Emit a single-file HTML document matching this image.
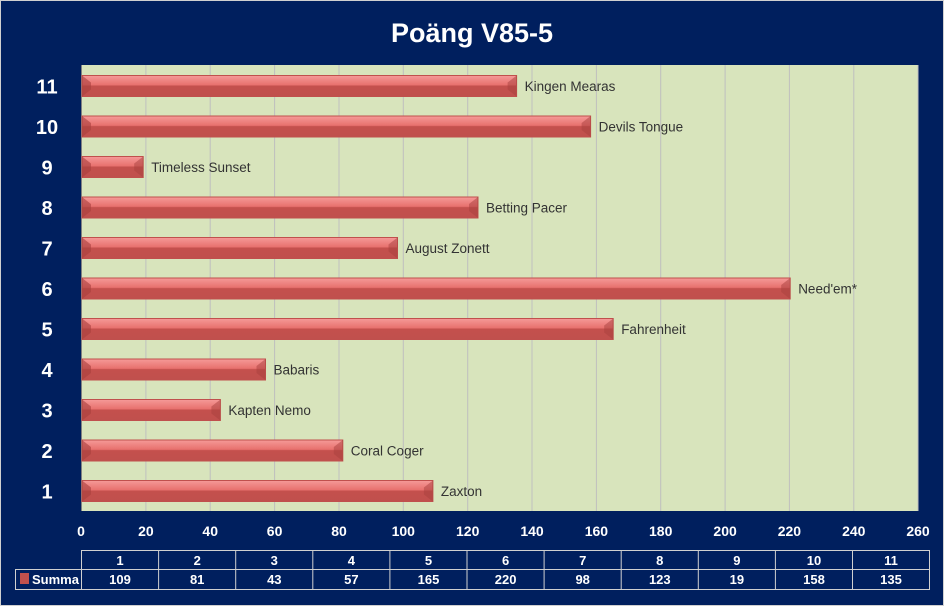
<!DOCTYPE html>
<html><head><meta charset="utf-8"><style>
html,body{margin:0;padding:0;background:#fff}
svg{display:block}
text{font-family:"Liberation Sans",sans-serif}
</style></head><body>
<svg width="944" height="606" viewBox="0 0 944 606" xmlns="http://www.w3.org/2000/svg">
<defs>
<linearGradient id="bg" x1="0" y1="0" x2="0" y2="1">
<stop offset="0" stop-color="#F59A98"/><stop offset="0.45" stop-color="#E8716E"/><stop offset="0.5" stop-color="#C4504D"/><stop offset="1" stop-color="#C0504D"/>
</linearGradient>
</defs>
<rect x="0" y="0" width="944" height="606" fill="#D0D0D0"/>
<rect x="1" y="1" width="942" height="604" fill="#001F5E"/>
<text x="472" y="42" text-anchor="middle" fill="#fff" font-size="27" font-weight="bold">Poäng  V85-5</text>
<rect x="81" y="65" width="837" height="446" fill="#D8E4BC"/>
<g stroke="#BFBFBF" stroke-width="1">
<line x1="145.9" y1="65" x2="145.9" y2="511"/><line x1="210.2" y1="65" x2="210.2" y2="511"/><line x1="274.6" y1="65" x2="274.6" y2="511"/><line x1="339" y1="65" x2="339" y2="511"/><line x1="403.3" y1="65" x2="403.3" y2="511"/><line x1="467.7" y1="65" x2="467.7" y2="511"/><line x1="532" y1="65" x2="532" y2="511"/><line x1="596.4" y1="65" x2="596.4" y2="511"/><line x1="660.7" y1="65" x2="660.7" y2="511"/><line x1="725.1" y1="65" x2="725.1" y2="511"/><line x1="789.4" y1="65" x2="789.4" y2="511"/><line x1="853.8" y1="65" x2="853.8" y2="511"/><line x1="918" y1="65" x2="918" y2="511"/>
</g>
<line x1="81.5" y1="65" x2="81.5" y2="511" stroke="#808080"/>

<g font-size="13.5" fill="#333">
<g transform="translate(82,480.5)"><rect width="350.9" height="21" fill="url(#bg)" stroke="#C0504D"/><polygon points="0,0 9,7 9,14 0,21" fill="#A8403E" opacity="0.6"/><polygon points="350.9,0 341.9,7 341.9,14 350.9,21" fill="#A8403E" opacity="0.5"/><text x="358.9" y="15.5">Zaxton</text><text x="-35" y="18" font-size="20" font-weight="bold" fill="#fff" text-anchor="middle">1</text></g>
<g transform="translate(82,440)"><rect width="260.8" height="21" fill="url(#bg)" stroke="#C0504D"/><polygon points="0,0 9,7 9,14 0,21" fill="#A8403E" opacity="0.6"/><polygon points="260.8,0 251.8,7 251.8,14 260.8,21" fill="#A8403E" opacity="0.5"/><text x="268.8" y="15.5">Coral Coger</text><text x="-35" y="18" font-size="20" font-weight="bold" fill="#fff" text-anchor="middle">2</text></g>
<g transform="translate(82,399.5)"><rect width="138.4" height="21" fill="url(#bg)" stroke="#C0504D"/><polygon points="0,0 9,7 9,14 0,21" fill="#A8403E" opacity="0.6"/><polygon points="138.4,0 129.4,7 129.4,14 138.4,21" fill="#A8403E" opacity="0.5"/><text x="146.4" y="15.5">Kapten Nemo</text><text x="-35" y="18" font-size="20" font-weight="bold" fill="#fff" text-anchor="middle">3</text></g>
<g transform="translate(82,359)"><rect width="183.5" height="21" fill="url(#bg)" stroke="#C0504D"/><polygon points="0,0 9,7 9,14 0,21" fill="#A8403E" opacity="0.6"/><polygon points="183.5,0 174.5,7 174.5,14 183.5,21" fill="#A8403E" opacity="0.5"/><text x="191.5" y="15.5">Babaris</text><text x="-35" y="18" font-size="20" font-weight="bold" fill="#fff" text-anchor="middle">4</text></g>
<g transform="translate(82,318.5)"><rect width="531.2" height="21" fill="url(#bg)" stroke="#C0504D"/><polygon points="0,0 9,7 9,14 0,21" fill="#A8403E" opacity="0.6"/><polygon points="531.2,0 522.2,7 522.2,14 531.2,21" fill="#A8403E" opacity="0.5"/><text x="539.2" y="15.5">Fahrenheit</text><text x="-35" y="18" font-size="20" font-weight="bold" fill="#fff" text-anchor="middle">5</text></g>
<g transform="translate(82,278)"><rect width="708.2" height="21" fill="url(#bg)" stroke="#C0504D"/><polygon points="0,0 9,7 9,14 0,21" fill="#A8403E" opacity="0.6"/><polygon points="708.2,0 699.2,7 699.2,14 708.2,21" fill="#A8403E" opacity="0.5"/><text x="716.2" y="15.5">Need'em*</text><text x="-35" y="18" font-size="20" font-weight="bold" fill="#fff" text-anchor="middle">6</text></g>
<g transform="translate(82,237.5)"><rect width="315.5" height="21" fill="url(#bg)" stroke="#C0504D"/><polygon points="0,0 9,7 9,14 0,21" fill="#A8403E" opacity="0.6"/><polygon points="315.5,0 306.5,7 306.5,14 315.5,21" fill="#A8403E" opacity="0.5"/><text x="323.5" y="15.5">August Zonett</text><text x="-35" y="18" font-size="20" font-weight="bold" fill="#fff" text-anchor="middle">7</text></g>
<g transform="translate(82,197)"><rect width="396" height="21" fill="url(#bg)" stroke="#C0504D"/><polygon points="0,0 9,7 9,14 0,21" fill="#A8403E" opacity="0.6"/><polygon points="396,0 387,7 387,14 396,21" fill="#A8403E" opacity="0.5"/><text x="404" y="15.5">Betting Pacer</text><text x="-35" y="18" font-size="20" font-weight="bold" fill="#fff" text-anchor="middle">8</text></g>
<g transform="translate(82,156.5)"><rect width="61.2" height="21" fill="url(#bg)" stroke="#C0504D"/><polygon points="0,0 9,7 9,14 0,21" fill="#A8403E" opacity="0.6"/><polygon points="61.2,0 52.2,7 52.2,14 61.2,21" fill="#A8403E" opacity="0.5"/><text x="69.2" y="15.5">Timeless Sunset</text><text x="-35" y="18" font-size="20" font-weight="bold" fill="#fff" text-anchor="middle">9</text></g>
<g transform="translate(82,116)"><rect width="508.6" height="21" fill="url(#bg)" stroke="#C0504D"/><polygon points="0,0 9,7 9,14 0,21" fill="#A8403E" opacity="0.6"/><polygon points="508.6,0 499.6,7 499.6,14 508.6,21" fill="#A8403E" opacity="0.5"/><text x="516.6" y="15.5">Devils Tongue</text><text x="-35" y="18" font-size="20" font-weight="bold" fill="#fff" text-anchor="middle">10</text></g>
<g transform="translate(82,75.5)"><rect width="434.6" height="21" fill="url(#bg)" stroke="#C0504D"/><polygon points="0,0 9,7 9,14 0,21" fill="#A8403E" opacity="0.6"/><polygon points="434.6,0 425.6,7 425.6,14 434.6,21" fill="#A8403E" opacity="0.5"/><text x="442.6" y="15.5">Kingen Mearas</text><text x="-35" y="18" font-size="20" font-weight="bold" fill="#fff" text-anchor="middle">11</text></g>
</g>

<g font-size="14" font-weight="bold" fill="#fff" text-anchor="middle">
<text x="81" y="536">0</text><text x="145.9" y="536">20</text><text x="210.2" y="536">40</text><text x="274.6" y="536">60</text><text x="339" y="536">80</text><text x="403.3" y="536">100</text><text x="467.7" y="536">120</text><text x="532" y="536">140</text><text x="596.4" y="536">160</text><text x="660.7" y="536">180</text><text x="725.1" y="536">200</text><text x="789.4" y="536">220</text><text x="853.8" y="536">240</text><text x="918" y="536">260</text>
</g>
<g stroke="#D0D0D0" stroke-width="1" fill="none">
<rect x="81.5" y="550.5" width="848" height="39"/>
<line x1="15.5" y1="569.5" x2="929.5" y2="569.5"/>
<polyline points="81.5,569.5 15.5,569.5 15.5,589.5 81.5,589.5"/>
<line x1="158.6" y1="550.5" x2="158.6" y2="589.5"/><line x1="235.7" y1="550.5" x2="235.7" y2="589.5"/><line x1="312.8" y1="550.5" x2="312.8" y2="589.5"/><line x1="389.9" y1="550.5" x2="389.9" y2="589.5"/><line x1="467" y1="550.5" x2="467" y2="589.5"/><line x1="544.1" y1="550.5" x2="544.1" y2="589.5"/><line x1="621.2" y1="550.5" x2="621.2" y2="589.5"/><line x1="698.3" y1="550.5" x2="698.3" y2="589.5"/><line x1="775.4" y1="550.5" x2="775.4" y2="589.5"/><line x1="852.5" y1="550.5" x2="852.5" y2="589.5"/>
</g>
<g font-size="13" font-weight="bold" fill="#fff" text-anchor="middle">
<text x="120" y="565">1</text><text x="197.2" y="565">2</text><text x="274.3" y="565">3</text><text x="351.4" y="565">4</text><text x="428.5" y="565">5</text><text x="505.6" y="565">6</text><text x="582.7" y="565">7</text><text x="659.8" y="565">8</text><text x="736.9" y="565">9</text><text x="814" y="565">10</text><text x="891" y="565">11</text>
<text x="120" y="584">109</text><text x="197.2" y="584">81</text><text x="274.3" y="584">43</text><text x="351.4" y="584">57</text><text x="428.5" y="584">165</text><text x="505.6" y="584">220</text><text x="582.7" y="584">98</text><text x="659.8" y="584">123</text><text x="736.9" y="584">19</text><text x="814" y="584">158</text><text x="891" y="584">135</text>
</g>
<rect x="20" y="573" width="9" height="11" fill="#C0504D"/>
<text x="32" y="584" font-size="13" font-weight="bold" fill="#fff">Summa</text>
</svg>
</body></html>
